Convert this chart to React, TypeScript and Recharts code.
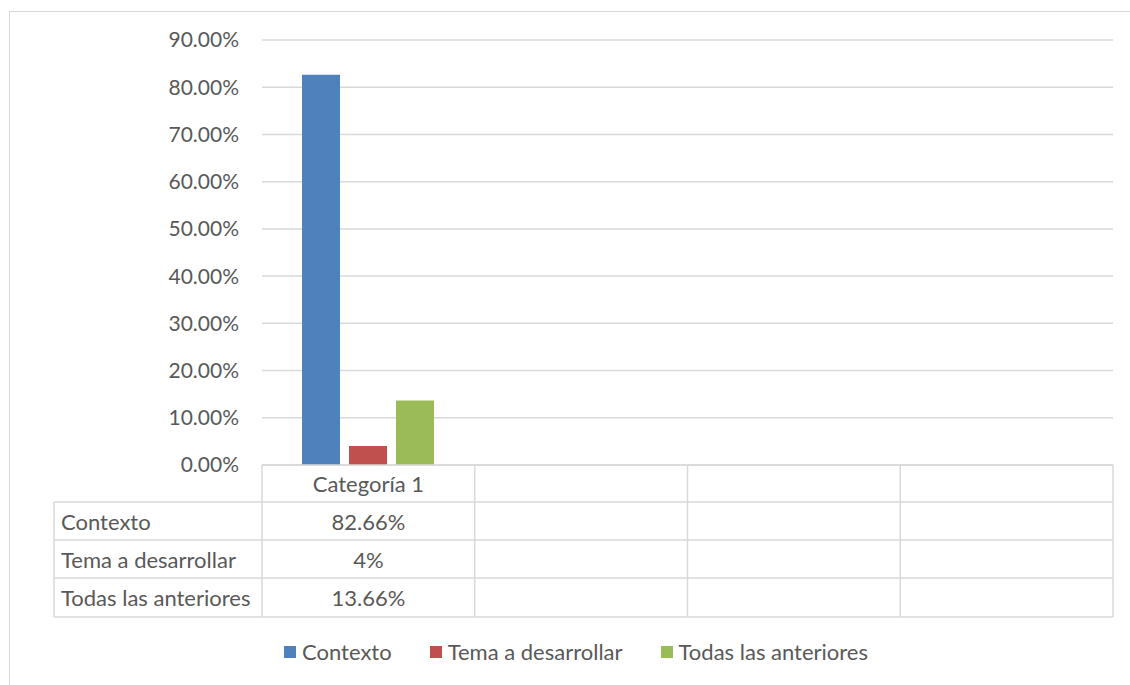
import { BarChart, Bar, XAxis, YAxis, CartesianGrid, Legend } from "recharts";

// categorías del eje X (solo la primera tiene datos, las demás quedan vacías)
const categories = ["Categoría 1", "", "", ""];
const seriesNames = ["Contexto", "Tema a desarrollar", "Todas las anteriores"];
const seriesColors = ["#4F81BD", "#C0504D", "#9BBB59"];
const contexto = [0.8266, null, null, null];
const temaADesarrollar = [0.04, null, null, null];
const todasLasAnteriores = [0.1366, null, null, null];
const yTicks = [0, 0.1, 0.2, 0.3, 0.4, 0.5, 0.6, 0.7, 0.8, 0.9];

const seriesValues = [contexto, temaADesarrollar, todasLasAnteriores];
const seriesKeys = ["s0", "s1", "s2"];

const data = categories.map((name, i) => ({
  name: `c${i}`,
  s0: contexto[i],
  s1: temaADesarrollar[i],
  s2: todasLasAnteriores[i],
}));

const W = 1130;
const H = 685;
const PLOT_LEFT = 262;
const PLOT_RIGHT = 1113;
const PLOT_TOP = 40;
const PLOT_BOTTOM = 465;
const BAND = (PLOT_RIGHT - PLOT_LEFT) / categories.length;
const ROW_H = [37, 38, 38, 39];
const LABEL_COL_LEFT = 54;

const TEXT = "#595959";
const LINE = "#D9D9D9";
const FONT = "Lato, 'Open Sans', sans-serif";
const FS = 22;
const FS_AXIS = 21;

const pctAxis = (v: number) => `${(v * 100).toFixed(2)}%`;
const pctTable = (v: number | null) => {
  if (v == null) return "";
  const s = (v * 100).toFixed(2).replace(/\.00$/, "");
  return `${s}%`;
};

// cada tick del eje X dibuja su columna de la tabla de datos
function TableTick(props: any) {
  const { x, payload } = props;
  const idx = payload.index;
  const top = PLOT_BOTTOM;
  const left = x - BAND / 2;
  const right = x + BAND / 2;
  const rows: number[] = [top];
  ROW_H.forEach((h) => rows.push(rows[rows.length - 1] + h));
  const bottom = rows[rows.length - 1];

  return (
    <g fontFamily={FONT} fontSize={FS} fill={TEXT}>
      {rows.map((ry, i) => (
        <line key={`h${i}`} x1={left} x2={right} y1={ry} y2={ry} stroke={LINE} strokeWidth={1.5} />
      ))}
      <line x1={right} x2={right} y1={top} y2={bottom} stroke={LINE} strokeWidth={1.5} />
      {idx === 0 && (
        <line x1={left} x2={left} y1={top} y2={bottom} stroke={LINE} strokeWidth={1.5} />
      )}
      <text x={x} y={(rows[0] + rows[1]) / 2} textAnchor="middle" dominantBaseline="central">
        {categories[idx]}
      </text>
      {seriesValues.map((vals, s) => (
        <text
          key={`v${s}`}
          x={x}
          y={(rows[s + 1] + rows[s + 2]) / 2}
          textAnchor="middle"
          dominantBaseline="central"
        >
          {pctTable(vals[idx])}
        </text>
      ))}
      {idx === 0 && (
        <g>
          {rows.slice(1).map((ry, i) => (
            <line
              key={`lh${i}`}
              x1={LABEL_COL_LEFT}
              x2={left}
              y1={ry}
              y2={ry}
              stroke={LINE}
              strokeWidth={1.5}
            />
          ))}
          <line
            x1={LABEL_COL_LEFT}
            x2={LABEL_COL_LEFT}
            y1={rows[1]}
            y2={bottom}
            stroke={LINE}
            strokeWidth={1.5}
          />
          {seriesNames.map((n, s) => (
            <text
              key={`ln${s}`}
              x={LABEL_COL_LEFT + 7}
              y={(rows[s + 1] + rows[s + 2]) / 2}
              dominantBaseline="central"
            >
              {n}
            </text>
          ))}
        </g>
      )}
    </g>
  );
}

function LegendContent() {
  return (
    <div style={{ display: "flex", alignItems: "center", fontFamily: FONT, fontSize: FS, color: TEXT }}>
      {seriesNames.map((n, i) => (
        <div key={n} style={{ display: "flex", alignItems: "center", marginRight: i < 2 ? 38 : 0 }}>
          <span style={{ width: 12, height: 12, background: seriesColors[i], marginRight: 6 }} />
          <span>{n}</span>
        </div>
      ))}
    </div>
  );
}

export default function App() {
  return (
    <div style={{ position: "absolute", left: 0, top: 0, width: W, height: H, background: "#fff", overflow: "hidden" }}>
      <div
        style={{
          position: "absolute",
          left: 9,
          top: 11,
          width: W,
          height: H,
          borderLeft: `1px solid ${LINE}`,
          borderTop: `1px solid ${LINE}`,
        }}
      />
      <BarChart
        width={W}
        height={H}
        data={data}
        margin={{ top: PLOT_TOP, right: W - PLOT_RIGHT, left: 0, bottom: 0 }}
        barCategoryGap={40}
        barGap={9}
        style={{ position: "absolute", left: 0, top: 0 }}
      >
        <CartesianGrid horizontal vertical={false} stroke={LINE} strokeWidth={1.5} />
        <XAxis
          dataKey="name"
          height={H - PLOT_BOTTOM}
          axisLine={false}
          tickLine={false}
          tickSize={0}
          tickMargin={0}
          interval={0}
          tick={<TableTick />}
        />
        <YAxis
          width={PLOT_LEFT}
          domain={[0, 0.9]}
          ticks={yTicks}
          tickFormatter={pctAxis}
          axisLine={false}
          tickLine={false}
          tickSize={0}
          tickMargin={23}
          tick={{ fill: TEXT, fontSize: FS_AXIS, fontFamily: FONT }}
        />
        {seriesKeys.map((k, i) => (
          <Bar
            key={k}
            dataKey={k}
            name={seriesNames[i]}
            fill={seriesColors[i]}
            barSize={38}
            isAnimationActive={false}
          />
        ))}
        <Legend
          layout="horizontal"
          verticalAlign="middle"
          content={<LegendContent />}
          wrapperStyle={{ left: 284, top: 638, width: "auto" }}
        />
      </BarChart>
    </div>
  );
}
